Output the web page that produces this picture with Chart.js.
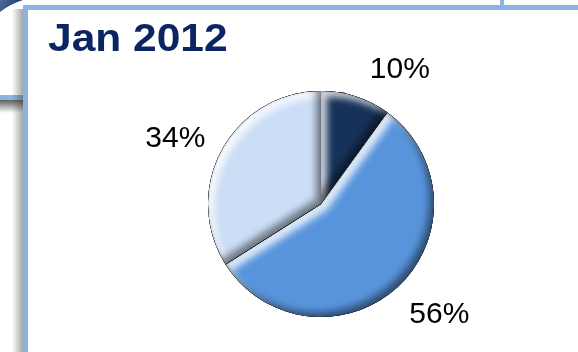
<!DOCTYPE html>
<html>
<head>
<meta charset="utf-8">
<script src="https://cdn.jsdelivr.net/npm/chart.js@4.4.1/dist/chart.umd.min.js"></script>
<style>
  html, body { margin: 0; padding: 0; background: #ffffff; }
  #chart { display: block; }
</style>
</head>
<body>
<canvas id="chart" width="578" height="352"></canvas>
<script>
// Share of the three groups for the month
const titleText = 'Jan 2012';
const categories = ['Group A', 'Group B', 'Group C'];
const shares = [10, 56, 34];
const sliceColors = ['#17325A', '#5894DC', '#CBDEF6'];

// Label placement: distance from centre (in radii) and a small nudge per slice
const labelDistance = 1.4;
const labelNudges = [[30, 13], [10, -7], [-7, 8]];

const panelBlue = '#8DB3E2';

// Slide panels behind the chart
const panelBackdrop = {
  id: 'panelBackdrop',
  beforeDraw(chart) {
    const ctx = chart.ctx;
    const W = chart.width, H = chart.height;
    ctx.save();
    ctx.fillStyle = '#ffffff';
    ctx.fillRect(0, 0, W, H);

    // corner of the dark shape at the top left
    const g0 = ctx.createLinearGradient(0, 0, 20, 10);
    g0.addColorStop(0, '#4B6C9A');
    g0.addColorStop(1, '#1C3764');
    ctx.fillStyle = g0;
    ctx.beginPath();
    ctx.moveTo(0, 0); ctx.lineTo(23, 0);
    ctx.quadraticCurveTo(10, 4, 0, 12);
    ctx.closePath(); ctx.fill();

    // neighbouring panel on the left: bottom edge and its shadow
    const gs = ctx.createLinearGradient(0, 100, 0, 113);
    gs.addColorStop(0, 'rgba(40,40,40,0.75)');
    gs.addColorStop(1, 'rgba(40,40,40,0)');
    ctx.fillStyle = gs;
    ctx.fillRect(0, 100, 23, 13);
    ctx.fillStyle = panelBlue;
    ctx.fillRect(0, 95, 23, 5);

    // neighbouring panel on the top right: side edge
    ctx.fillStyle = panelBlue;
    ctx.fillRect(500, 0, 4, 6);

    // main panel shadow on its left side
    const gl = ctx.createLinearGradient(23, 0, 12, 0);
    gl.addColorStop(0, 'rgba(60,60,60,0.45)');
    gl.addColorStop(1, 'rgba(60,60,60,0)');
    ctx.fillStyle = gl;
    ctx.fillRect(12, 9, 11, H - 9);

    // main panel frame
    ctx.fillStyle = panelBlue;
    ctx.fillRect(23, 5, W - 23, H - 5);
    ctx.fillStyle = '#ffffff';
    ctx.fillRect(28, 10, W - 28, H - 10);

    // title
    ctx.fillStyle = '#0B2462';
    ctx.font = 'bold 39px "Liberation Sans", Arial, sans-serif';
    ctx.textAlign = 'left';
    ctx.textBaseline = 'alphabetic';
    ctx.translate(48, 51);
    ctx.scale(1.09, 1);
    ctx.fillText(titleText, 0, 0);
    ctx.restore();
  }
};

// Soft bevel on each slice: light on edges facing up-left, shade on the others
const sliceBevel = {
  id: 'sliceBevel',
  afterDatasetsDraw(chart) {
    const ctx = chart.ctx;
    const meta = chart.getDatasetMeta(0);
    meta.data.forEach((arc) => {
      const p = arc.getProps(['x', 'y', 'startAngle', 'endAngle', 'outerRadius'], true);
      const shape = new Path2D();
      shape.moveTo(p.x, p.y);
      shape.arc(p.x, p.y, p.outerRadius, p.startAngle, p.endAngle);
      shape.closePath();

      const inner = (color, dx, dy, blur) => {
        ctx.save();
        ctx.clip(shape);
        const frame = new Path2D();
        frame.rect(p.x - 600, p.y - 600, 1200, 1200);
        frame.addPath(shape);
        ctx.shadowColor = color;
        ctx.shadowBlur = blur;
        ctx.shadowOffsetX = dx;
        ctx.shadowOffsetY = dy;
        ctx.fillStyle = '#000';
        ctx.fill(frame, 'evenodd');
        ctx.restore();
      };
      inner('rgba(255,255,255,0.8)', 6, 6, 7);
      inner('rgba(0,0,0,0.45)', -5, -5, 7);
      inner('rgba(0,0,0,0.18)', 0, 0, 3);
    });
  }
};

// Percentage labels outside the pie
const shareLabels = {
  id: 'shareLabels',
  afterDraw(chart) {
    const ctx = chart.ctx;
    const meta = chart.getDatasetMeta(0);
    const values = chart.data.datasets[0].data;
    ctx.save();
    ctx.fillStyle = '#000000';
    ctx.font = '30px "Liberation Sans", Arial, sans-serif';
    ctx.textAlign = 'center';
    ctx.textBaseline = 'alphabetic';
    meta.data.forEach((arc, i) => {
      const p = arc.getProps(['x', 'y', 'startAngle', 'endAngle', 'outerRadius'], true);
      const mid = (p.startAngle + p.endAngle) / 2;
      const r = p.outerRadius * labelDistance;
      const cx = p.x + Math.cos(mid) * r + labelNudges[i][0];
      const cy = p.y + Math.sin(mid) * r + labelNudges[i][1];
      ctx.fillText(values[i] + '%', cx, cy + 11);
    });
    ctx.restore();
  }
};

new Chart(document.getElementById('chart'), {
  type: 'pie',
  data: {
    labels: categories,
    datasets: [{
      data: shares,
      backgroundColor: sliceColors,
      borderWidth: 0
    }]
  },
  options: {
    responsive: false,
    animation: false,
    devicePixelRatio: 1,
    events: [],
    layout: { padding: { left: 208, right: 144, top: 91, bottom: 35 } },
    plugins: {
      legend: { display: false },
      tooltip: { enabled: false },
      title: { display: false }
    }
  },
  plugins: [panelBackdrop, sliceBevel, shareLabels]
});
</script>
</body>
</html>
